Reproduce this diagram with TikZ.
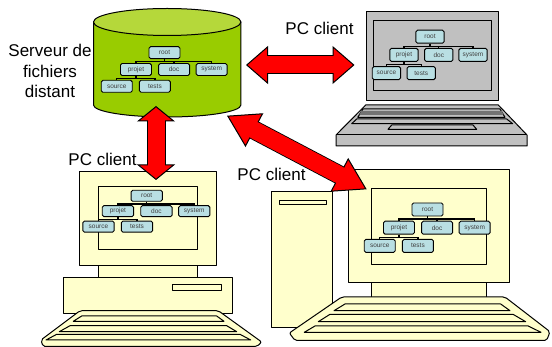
\documentclass[tikz,border=0pt]{standalone}
\usepackage{fontspec}
\setmainfont{Liberation Sans}
\usetikzlibrary{arrows.meta}
\definecolor{srvbody}{HTML}{99CC00}
\definecolor{srvtop}{HTML}{B5D83A}
\definecolor{cream}{HTML}{FFFFCC}
\definecolor{lapgrey}{HTML}{C0C0C0}
\definecolor{boxblue}{HTML}{B9DFE3}
\tikzset{
    label text/.style={font=\fontsize{17}{20.7}\selectfont, align=center, inner sep=0pt},
    folder/.style={draw=black, line width=0.9pt, rounded corners=1.6pt, fill=boxblue, inner sep=0pt,
        text=black!75, font=\fontsize{6.5}{7}\selectfont},
    treeline/.style={line width=1.4pt, black},
    part/.style={draw=black, line width=1pt, line join=round},
    bigarrow/.style={line width=1pt, draw=black, double=red, double distance=17pt},
    bigcore/.style={line width=17pt, red},
}
% tree of folders: prefix, root x, root y, box width, box height
\newcommand{\filetree}[5]{
    \begin{scope}[shift={(#2,#3)}, x=#4pt, y=-#5pt,
        every node/.style={folder, minimum width=#4pt, minimum height=#5pt}]
        \node at (0,0) (#1root) {root};
        \node at (-.92,1.4) (#1projet) {projet};
        \node at (.31,1.4) (#1doc) {doc};
        \node at (1.52,1.4) (#1system) {system};
        \node at (-1.54,2.8) (#1source) {source};
        \node at (-.31,2.8) (#1tests) {tests};
        \draw[treeline] (#1root.south) -- ++(0,.2) -| (#1projet.north);
        \draw[treeline] (#1root.south) -- ++(0,.2) -| (#1doc.north);
        \draw[treeline] (#1root.south) -- ++(0,.2) -| (#1system.north);
        \draw[treeline] (#1projet.south) -- ++(0,.2) -| (#1source.north);
        \draw[treeline] (#1projet.south) -- ++(0,.2) -| (#1tests.north);
    \end{scope}
}
\begin{document}
\begin{tikzpicture}[x=1pt, y=-1pt]
    \useasboundingbox (0,0) rectangle (552,347);

    % Server
    \draw[part, fill=srvbody] (93.5,22) -- (93.5,105) arc[x radius=73.7pt, y radius=12pt, start angle=180, end angle=360] -- (240.9,22) -- cycle;
    \draw[part, fill=srvtop] (167.2,22) ellipse [x radius=73.7pt, y radius=13.5pt];
    \filetree{s}{164.5}{52.7}{31}{12}

    % Laptop
    \draw[part, fill=lapgrey] (366,11.7) rectangle (498.7,101);
    \draw[part, fill=lapgrey] (373.3,21) rectangle (491.7,90.3);
    \draw[part, fill=lapgrey] (365.7,105) -- (498.3,105) -- (527,135) -- (527,146) -- (336,146) -- (336,135) -- cycle;
    \draw[part] (336,135) -- (527,135);
    \draw[part, fill=lapgrey] (363,109) -- (500,109) -- (505,117.3) -- (357.7,117.3) -- cycle;
    \fill[black!55] (361,111) -- (502,111) -- (503.5,115) -- (359.5,115) -- cycle;
    \draw[part, fill=lapgrey] (356.7,119) -- (506.7,119) -- (512.7,123.7) -- (351.7,123.7) -- cycle;
    \draw[part, fill=lapgrey] (391.7,125) -- (473,125) -- (476.7,129.3) -- (388,129.3) -- cycle;
    \filetree{l}{430}{36.7}{28.3}{13}

    % Left PC
    \draw[part, fill=cream] (63.3,277.3) rectangle (232.7,314);
    \draw[part, fill=cream] (172.3,285) rectangle (221.7,290.7);
    \draw[part, fill=cream] (98.7,265) rectangle (197.3,277.3);
    \draw[part, fill=cream] (79,171.7) rectangle (216.7,265.7);
    \draw[part, fill=cream] (98.7,186.7) rectangle (197.3,250);
    \draw[part, fill=cream, rounded corners=2pt] (80,310.7) -- (218.3,310.7) -- (261.7,342) -- (257,346.5) -- (43,346.5) -- (41,340) -- cycle;
    \draw[part] (81.7,316) -- (216.7,316) -- (224,321.3) -- (73.3,321.3) -- cycle;
    \draw[part] (70,325.7) -- (226.7,325.7) -- (236.7,331.7) -- (59.3,331.7) -- cycle;
    \draw[part] (56.7,334.3) -- (240,334.3) -- (250.7,340) -- (46,340) -- cycle;
    \filetree{a}{146.7}{195.8}{31.3}{11}

    % Right PC
    \draw[part, fill=cream] (271.7,191.7) rectangle (332.7,327.3);
    \draw[part, fill=cream] (279,201) rectangle (326,204.3);
    \draw[part, fill=cream] (371.7,282) rectangle (486.7,297.3);
    \draw[part, fill=cream] (348.7,169.3) rectangle (509.3,282.3);
    \draw[part, fill=cream] (371.7,188.3) rectangle (486.7,264.3);
    \draw[part, fill=cream, rounded corners=2pt] (341.7,297) -- (505,297) -- (550,331.7) -- (546.7,340.5) -- (295,340.5) -- (289.3,333) -- cycle;
    \draw[part] (345,304) -- (500.7,304) -- (510,310.7) -- (334,310.7) -- cycle;
    \draw[part] (330,314.3) -- (513,314.3) -- (525.7,321.7) -- (318.3,321.7) -- cycle;
    \draw[part] (315,326) -- (528.3,326) -- (541,332.3) -- (304.3,332.3) -- cycle;
    \filetree{b}{427.5}{209.5}{31}{13}

    % Labels
    \node[label text] at (50,71) (srvlabel) {Serveur de\\fichiers\\distant};
    \node[label text] at (319.5,28) (lablaptop) {PC client};
    \node[label text] at (102.5,159) (lableft) {PC client};
    \node[label text] at (271.5,174) (labright) {PC client};

    % Arrows
    \coordinate (srvE) at (246,65);
    \coordinate (lapW) at (354.5,65);
    \coordinate (srvS) at (156,106);
    \coordinate (pcN) at (156,180);
    \coordinate (srvSE) at (227,115.7);
    \coordinate (pcNW) at (366.7,189.3);
    \draw[bigarrow, {Triangle[length=22pt, width=38pt, fill=red]}-{Triangle[length=22pt, width=38pt, fill=red]}] (srvE) -- (lapW);
    \draw[bigarrow, {Triangle[length=15.5pt, width=38pt, fill=red]}-{Triangle[length=15.5pt, width=38pt, fill=red]}] (srvS) -- (pcN);
    \draw[bigarrow, {Triangle[length=31pt, width=38pt, fill=red]}-{Triangle[length=31pt, width=38pt, fill=red]}] (srvSE) -- (pcNW);
    \draw[bigcore, shorten <=20pt, shorten >=20pt] (srvE) -- (lapW);
    \draw[bigcore, shorten <=13pt, shorten >=13pt] (srvS) -- (pcN);
    \draw[bigcore, shorten <=28pt, shorten >=28pt] (srvSE) -- (pcNW);
\end{tikzpicture}
\end{document}
